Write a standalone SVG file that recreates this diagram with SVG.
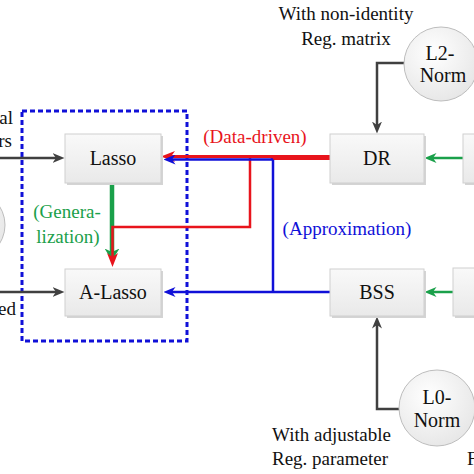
<svg xmlns="http://www.w3.org/2000/svg" width="474" height="474" viewBox="0 0 474 474">
<defs>
<linearGradient id="boxg" x1="0" y1="0" x2="0" y2="1"><stop offset="0" stop-color="#f9f9f9"/><stop offset="1" stop-color="#e9e9e9"/></linearGradient>
<radialGradient id="cirg" cx="0.4" cy="0.35" r="0.7"><stop offset="0" stop-color="#ffffff"/><stop offset="1" stop-color="#e6e6e6"/></radialGradient>
<marker id="ag" viewBox="0 0 12 10" refX="3.5" refY="5" markerWidth="12" markerHeight="10" orient="auto" markerUnits="userSpaceOnUse"><path d="M0,0 L12,5 L0,10 L3.5,5 z" fill="#404040"/></marker>
<marker id="agr" viewBox="0 0 12 10" refX="3.5" refY="5" markerWidth="12" markerHeight="10" orient="auto" markerUnits="userSpaceOnUse"><path d="M0,0 L12,5 L0,10 L3.5,5 z" fill="#1aa04a"/></marker>
<marker id="agrb" viewBox="0 0 12 15" refX="3.5" refY="7.5" markerWidth="12" markerHeight="15" orient="auto" markerUnits="userSpaceOnUse"><path d="M0,0 L12,7.5 L0,15 L3.5,7.5 z" fill="#1aa04a"/></marker>
<marker id="ar" viewBox="0 0 14 11" refX="4" refY="5.5" markerWidth="14" markerHeight="11" orient="auto" markerUnits="userSpaceOnUse"><path d="M0,0 L14,5.5 L0,11 L4,5.5 z" fill="#e8141c"/></marker>
<marker id="ab" viewBox="0 0 12 10" refX="3.5" refY="5" markerWidth="12" markerHeight="10" orient="auto" markerUnits="userSpaceOnUse"><path d="M0,0 L12,5 L0,10 L3.5,5 z" fill="#1010d8"/></marker>
</defs>
<style>
.box{fill:url(#boxg);stroke:#cfcfcf;stroke-width:1}
.sh{fill:#d4d4d4}
.cir{fill:url(#cirg);stroke:#bdbdbd;stroke-width:1}
text{font-family:"Liberation Serif","Times New Roman",serif;font-size:19px;fill:#111}
.lbl{font-size:20px;text-anchor:middle}
.c{text-anchor:middle}
.e{text-anchor:end}
.gray{fill:none;stroke:#404040;stroke-width:2.5}
.grn{fill:none;stroke:#1aa04a}
.red{fill:none;stroke:#e8141c}
.blu{fill:none;stroke:#1010d8}
</style>
<rect width="474" height="474" fill="#ffffff"/>

<g id="container">
<rect x="22" y="111" width="165" height="230" fill="none" stroke="#1010d8" stroke-width="3" stroke-dasharray="5,3"/>
</g>

<g id="connectors">
<path class="gray" d="M0,158 H56" marker-end="url(#ag)"/>
<path class="gray" d="M0,292 H56" marker-end="url(#ag)"/>
<path class="gray" d="M404,63 H377 V125" marker-end="url(#ag)"/>
<path class="gray" d="M399,409 H377 V325" marker-end="url(#ag)"/>
<path class="grn" stroke-width="2.5" d="M463,158 H433" marker-end="url(#agr)"/>
<path class="grn" stroke-width="2.5" d="M453,292 H433" marker-end="url(#agr)"/>
<path class="grn" stroke-width="4.5" stroke-linecap="round" d="M112,184 V252" marker-end="url(#agrb)"/>
<path class="red" stroke-width="2.5" d="M250,158 V227 H112.5 V257" marker-end="url(#ar)"/>
<path class="red" stroke-width="5" stroke-linecap="round" d="M331,157.5 H273"/>
<path class="red" stroke-width="3" d="M273,156.5 H171" marker-end="url(#ar)"/>
<path class="blu" stroke-width="2.5" d="M273,159.5 H172" marker-end="url(#ab)"/>
<path class="blu" stroke-width="2.5" d="M273,159.5 V292"/>
<path class="blu" stroke-width="2.5" d="M330,292 H172" marker-end="url(#ab)"/>
</g>

<g id="lasso">
<rect class="sh" x="67" y="136" width="96" height="49"/>
<rect class="box" x="65" y="134" width="96" height="49"/>
<text class="lbl" x="113" y="165">Lasso</text>
</g>
<g id="alasso">
<rect class="sh" x="67" y="271" width="96" height="47"/>
<rect class="box" x="65" y="269" width="96" height="47"/>
<text class="lbl" x="113" y="299">A-Lasso</text>
</g>
<g id="dr">
<rect class="sh" x="332" y="136" width="94" height="49"/>
<rect class="box" x="330" y="134" width="94" height="49"/>
<text class="lbl" x="377" y="165">DR</text>
</g>
<g id="bss">
<rect class="sh" x="332" y="271" width="94" height="47"/>
<rect class="box" x="330" y="269" width="94" height="47"/>
<text class="lbl" x="377" y="299">BSS</text>
</g>
<g id="right-top">
<rect class="sh" x="465" y="136" width="40" height="49"/>
<rect class="box" x="463" y="134" width="40" height="49"/>
</g>
<g id="right-bottom">
<rect class="sh" x="455" y="270" width="50" height="48"/>
<rect class="box" x="453" y="268" width="50" height="48"/>
</g>
<g id="l2norm">
<circle class="cir" cx="441" cy="64" r="37"/>
<text class="lbl" x="440" y="60">L2-</text>
<text class="lbl" x="443" y="82">Norm</text>
</g>
<g id="l0norm">
<circle class="cir" cx="437" cy="408" r="38"/>
<text class="lbl" x="437" y="404">L0-</text>
<text class="lbl" x="437" y="427">Norm</text>
</g>
<g id="left-circle">
<circle class="cir" cx="-30" cy="225" r="35"/>
</g>

<g id="labels">
<text class="c" x="346" y="20">With non-identity</text>
<text class="c" x="346" y="45">Reg. matrix</text>
<text class="c" x="255" y="143" style="fill:#e8141c">(Data-driven)</text>
<text class="c" x="67" y="218" style="fill:#1aa04a">(Genera-</text>
<text class="c" x="68" y="243" style="fill:#1aa04a">lization)</text>
<text class="c" x="347" y="235" style="fill:#1010d8">(Approximation)</text>
<text x="272" y="441">With adjustable</text>
<text x="272" y="465">Reg. parameter</text>
<text class="e" x="13" y="124">al</text>
<text class="e" x="12" y="147">rs</text>
<text class="e" x="16" y="315">ed</text>
<text x="467" y="465">F</text>
</g>
</svg>
